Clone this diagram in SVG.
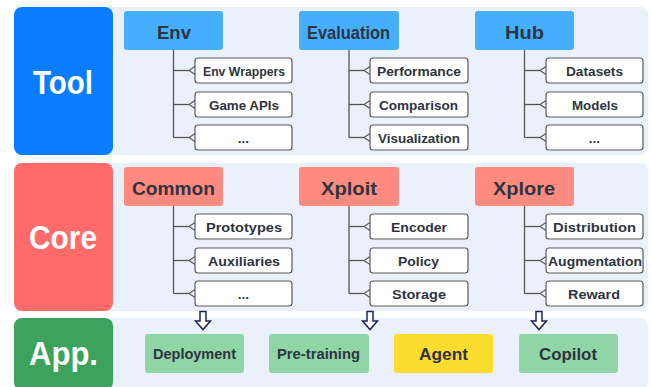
<svg xmlns="http://www.w3.org/2000/svg" width="651" height="387" viewBox="0 0 651 387">
<defs>
<marker id="chev" markerUnits="userSpaceOnUse" markerWidth="8" markerHeight="10" viewBox="0 -5 8 10" refX="0" refY="0" orient="auto" overflow="visible">
<path d="M6,-4 L0,0 L6,4" fill="none" stroke="#555" stroke-width="1.1"/>
</marker>
</defs>
<style>
text{font-family:"Liberation Sans","Noto Sans",Arial,sans-serif;font-weight:bold;text-anchor:middle;fill:#2E3440}
.panel{fill:#EBF1FC}
.lbl{fill:#fff;font-size:33.5px}
.hdr{font-size:19px}
.th{fill:#45AFFE}
.ch{fill:#FF8A80}
.child rect{fill:#fff;stroke:#5A5A5A;stroke-width:1.2}
.child text{font-size:13.5px}
.app rect{fill:#8FD5A6}
.br{stroke:#555;stroke-width:1.3;fill:none}
.br line.b{marker-end:url(#chev)}
.dn{fill:#fff;stroke:#1B2452;stroke-width:1.5;stroke-linejoin:miter}
</style>
<g id="panels">
<rect class="panel" x="14" y="7" width="634" height="148" rx="8"/>
<rect class="panel" x="14" y="163" width="634" height="148" rx="8"/>
<rect class="panel" x="14" y="318" width="634" height="72" rx="8"/>
</g>
<g id="layer-tool"><rect x="14" y="7" width="99" height="148" rx="8" fill="#0A7CFF"/><text class="lbl" x="63" y="94" textLength="60" lengthAdjust="spacingAndGlyphs">Tool</text></g>
<g id="layer-core"><rect x="14" y="163" width="99" height="148" rx="8" fill="#FF6B6B"/><text class="lbl" x="63" y="249" textLength="68" lengthAdjust="spacingAndGlyphs">Core</text></g>
<g id="layer-app"><rect x="14" y="318" width="99" height="72" rx="8" fill="#3DA25B"/><text class="lbl" x="63.5" y="365" textLength="69" lengthAdjust="spacingAndGlyphs">App.</text></g>

<g id="connectors" class="br">
<line x1="173.5" y1="50" x2="173.5" y2="137.5"/>
<line class="b" x1="173.5" y1="70.5" x2="189" y2="70.5"/>
<line class="b" x1="173.5" y1="104.5" x2="189" y2="104.5"/>
<line class="b" x1="173.5" y1="137.5" x2="189" y2="137.5"/>
<line x1="349" y1="50" x2="349" y2="137.5"/>
<line class="b" x1="349" y1="70.5" x2="364" y2="70.5"/>
<line class="b" x1="349" y1="104.5" x2="364" y2="104.5"/>
<line class="b" x1="349" y1="137.5" x2="364" y2="137.5"/>
<line x1="524.5" y1="50" x2="524.5" y2="137.5"/>
<line class="b" x1="524.5" y1="70.5" x2="540" y2="70.5"/>
<line class="b" x1="524.5" y1="104.5" x2="540" y2="104.5"/>
<line class="b" x1="524.5" y1="137.5" x2="540" y2="137.5"/>
<line x1="173.5" y1="206" x2="173.5" y2="293.5"/>
<line class="b" x1="173.5" y1="226.5" x2="189" y2="226.5"/>
<line class="b" x1="173.5" y1="260.5" x2="189" y2="260.5"/>
<line class="b" x1="173.5" y1="293.5" x2="189" y2="293.5"/>
<line x1="349" y1="206" x2="349" y2="293.5"/>
<line class="b" x1="349" y1="226.5" x2="364" y2="226.5"/>
<line class="b" x1="349" y1="260.5" x2="364" y2="260.5"/>
<line class="b" x1="349" y1="293.5" x2="364" y2="293.5"/>
<line x1="524.5" y1="206" x2="524.5" y2="293.5"/>
<line class="b" x1="524.5" y1="226.5" x2="540" y2="226.5"/>
<line class="b" x1="524.5" y1="260.5" x2="540" y2="260.5"/>
<line class="b" x1="524.5" y1="293.5" x2="540" y2="293.5"/>
<path class="dn" d="M200,311.5 H206 V321 H210.5 L203,329.5 L195.5,321 H200 Z"/>
<path class="dn" d="M367,311.5 H373 V321 H377.5 L370,329.5 L362.5,321 H367 Z"/>
<path class="dn" d="M536,311.5 H542 V321 H546.5 L539,329.5 L531.5,321 H536 Z"/>
</g>

<g id="env"><rect class="th" x="124" y="11" width="99" height="39" rx="3"/><text class="hdr" x="174" y="39" textLength="34" lengthAdjust="spacingAndGlyphs">Env</text></g>
<g id="evaluation"><rect class="th" x="299" y="11" width="100" height="39" rx="3"/><text class="hdr" x="348.5" y="39" textLength="83" lengthAdjust="spacingAndGlyphs">Evaluation</text></g>
<g id="hub"><rect class="th" x="475" y="11" width="99" height="39" rx="3"/><text class="hdr" x="524.5" y="39" textLength="39" lengthAdjust="spacingAndGlyphs">Hub</text></g>
<g id="common"><rect class="ch" x="124" y="167" width="99" height="39" rx="3"/><text class="hdr" x="173.5" y="195" textLength="83" lengthAdjust="spacingAndGlyphs">Common</text></g>
<g id="xploit"><rect class="ch" x="299" y="167" width="100" height="39" rx="3"/><text class="hdr" x="349" y="195" textLength="56" lengthAdjust="spacingAndGlyphs">Xploit</text></g>
<g id="xplore"><rect class="ch" x="475" y="167" width="99" height="39" rx="3"/><text class="hdr" x="524" y="195" textLength="62" lengthAdjust="spacingAndGlyphs">Xplore</text></g>

<g id="env-wrappers" class="child"><rect x="195" y="58" width="97" height="25" rx="3"/><text x="244" y="76" textLength="82" lengthAdjust="spacingAndGlyphs">Env Wrappers</text></g>
<g id="game-apis" class="child"><rect x="195" y="92" width="97" height="25" rx="3"/><text x="244" y="110" textLength="70" lengthAdjust="spacingAndGlyphs">Game APIs</text></g>
<g id="env-more" class="child"><rect x="195" y="125" width="97" height="25" rx="3"/><text x="243.5" y="143">...</text></g>
<g id="performance" class="child"><rect x="370" y="58" width="98" height="25" rx="3"/><text x="419" y="76" textLength="84" lengthAdjust="spacingAndGlyphs">Performance</text></g>
<g id="comparison" class="child"><rect x="370" y="92" width="98" height="25" rx="3"/><text x="418.5" y="110" textLength="79" lengthAdjust="spacingAndGlyphs">Comparison</text></g>
<g id="visualization" class="child"><rect x="370" y="125" width="98" height="25" rx="3"/><text x="419" y="143" textLength="82" lengthAdjust="spacingAndGlyphs">Visualization</text></g>
<g id="datasets" class="child"><rect x="546" y="58" width="97" height="25" rx="3"/><text x="594.5" y="76" textLength="57" lengthAdjust="spacingAndGlyphs">Datasets</text></g>
<g id="models" class="child"><rect x="546" y="92" width="97" height="25" rx="3"/><text x="595" y="110" textLength="46" lengthAdjust="spacingAndGlyphs">Models</text></g>
<g id="hub-more" class="child"><rect x="546" y="125" width="97" height="25" rx="3"/><text x="594.5" y="143">...</text></g>
<g id="prototypes" class="child"><rect x="195" y="214" width="97" height="25" rx="3"/><text x="244" y="232" textLength="76" lengthAdjust="spacingAndGlyphs">Prototypes</text></g>
<g id="auxiliaries" class="child"><rect x="195" y="248" width="97" height="25" rx="3"/><text x="244" y="266" textLength="72" lengthAdjust="spacingAndGlyphs">Auxiliaries</text></g>
<g id="common-more" class="child"><rect x="195" y="281" width="97" height="25" rx="3"/><text x="243.5" y="299">...</text></g>
<g id="encoder" class="child"><rect x="370" y="214" width="98" height="25" rx="3"/><text x="419" y="232" textLength="56" lengthAdjust="spacingAndGlyphs">Encoder</text></g>
<g id="policy" class="child"><rect x="370" y="248" width="98" height="25" rx="3"/><text x="418.5" y="266" textLength="41" lengthAdjust="spacingAndGlyphs">Policy</text></g>
<g id="storage" class="child"><rect x="370" y="281" width="98" height="25" rx="3"/><text x="419" y="299" textLength="54" lengthAdjust="spacingAndGlyphs">Storage</text></g>
<g id="distribution" class="child"><rect x="546" y="214" width="97" height="25" rx="3"/><text x="594.5" y="232" textLength="83" lengthAdjust="spacingAndGlyphs">Distribution</text></g>
<g id="augmentation" class="child"><rect x="546" y="248" width="97" height="25" rx="3"/><text x="595" y="266" textLength="94" lengthAdjust="spacingAndGlyphs">Augmentation</text></g>
<g id="reward" class="child"><rect x="546" y="281" width="97" height="25" rx="3"/><text x="594" y="299" textLength="52" lengthAdjust="spacingAndGlyphs">Reward</text></g>

<g id="deployment" class="app"><rect x="145" y="334" width="99" height="39" rx="3"/><text x="194.5" y="359" font-size="14.5" textLength="83" lengthAdjust="spacingAndGlyphs">Deployment</text></g>
<g id="pre-training" class="app"><rect x="269" y="334" width="100" height="39" rx="3"/><text x="318.5" y="359" font-size="14.5" textLength="83" lengthAdjust="spacingAndGlyphs">Pre-training</text></g>
<g id="agent"><rect x="394" y="334" width="99" height="39" rx="3" fill="#FCDC2E"/><text x="443.5" y="360" font-size="17" textLength="49" lengthAdjust="spacingAndGlyphs">Agent</text></g>
<g id="copilot" class="app"><rect x="519" y="334" width="99" height="39" rx="3"/><text x="568" y="360" font-size="17" textLength="58" lengthAdjust="spacingAndGlyphs">Copilot</text></g>
</svg>
